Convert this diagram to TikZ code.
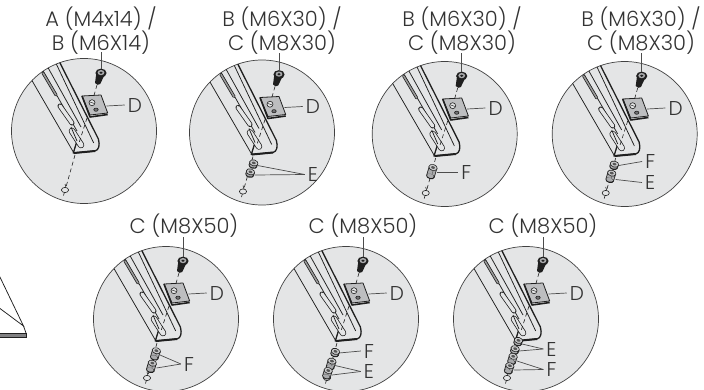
\documentclass[tikz,border=0pt]{standalone}
\usepackage{fontspec}
\setmainfont{Poppins}[UprightFont={* Light}]
\definecolor{disc}{HTML}{E4E5E6}
\definecolor{ink}{HTML}{1F1F1F}
\definecolor{txt}{HTML}{333333}
\definecolor{metal}{HTML}{A9AAAC}
\definecolor{platefill}{HTML}{BDBEC0}
\tikzset{
  discbody/.style={draw=ink!85,line width=0.7pt,fill=disc},
  railedge/.style={draw=ink,line width=0.75pt},
  heavy/.style={draw=ink,line width=1.3pt,line cap=round,line join=round},
  axisline/.style={draw=ink,line width=0.6pt,dash pattern=on 4pt off 3pt},
  leader/.style={draw=ink!80,line width=0.7pt},
  lab/.style={font=\fontsize{20}{20}\selectfont,text=txt,inner sep=0pt,anchor=center,text height=14pt,text depth=0pt},
  titletext/.style={font=\fontsize{21}{24}\selectfont,text=txt,inner sep=0pt,align=center,anchor=center},
}
% stadium shaped slot: dark stroke with a lighter stroke on top
\newcommand\slotline[4]{%
  \draw[ink,line width=#3pt,line cap=round] #1 -- #2;
  \draw[#4,line width=#3pt-1.5pt,line cap=round] #1 -- #2;}
% short cylinder along the axis: centre, half length
\newcommand\spacer[3]{%
  \begin{scope}[shift={(#1,#2)}]
    \draw[ink,line width=8.6pt] ({0.296*#3},{-#3}) -- ({-0.296*#3},{#3});
    \draw[metal,line width=7pt] ({0.296*#3},{-#3}) -- ({-0.296*#3},{#3});
    \draw[ink!70,line width=0.5pt] ({0.296*#3+1},{-#3}) -- ({-0.296*#3+1},{#3});
    \fill[ink] ({-0.296*#3},{#3}) ellipse [x radius=4.3pt,y radius=2.6pt,rotate=-16];
    \fill[metal] ({-0.296*#3},{#3-0.6}) ellipse [x radius=3.4pt,y radius=2pt,rotate=-16];
    \draw[ink,fill=metal!60,line width=0.6pt] ({0.296*#3},{-#3}) ellipse [x radius=4.3pt,y radius=3pt,rotate=-16];
    \fill[ink!75] ({0.296*#3},{-#3}) ellipse [x radius=2pt,y radius=1.3pt,rotate=-16];
  \end{scope}}
% the common content of a detail: origin at the screw head
\newcommand\detail[3]{%
  \begin{scope}[shift={(#2,#3)}]
    \node[discbody,circle,minimum size=145pt,inner sep=0pt] (#1-disc) at (-17,58) {};
    \begin{scope}
      \clip (-17,58) circle [radius=72.5pt];
      % rail
      \draw[railedge] (-78,-8) -- (-27.7,79);
      \draw[railedge] (-67,-18) -- (-24,58);
      \draw[railedge] (-60,-18) -- (-20,54);
      \draw[railedge] (-48,-16) -- (-7.3,70);
      \draw[heavy] (-44,-16) -- (-2.6,66) .. controls (-1,72) and (-2,77) .. (-6,78) -- (-27.7,80) -- (-24,68);
      \draw[ink,line width=2pt] (-27,80) -- (-6,78);
      \slotline{(-58,0)}{(-45,22)}{3}{ink!45}
      \slotline{(-41,33)}{(-29,50)}{5}{disc}
      \slotline{(-29,58)}{(-20,72)}{6.5}{disc}
      \draw[railedge] (-24,68) -- (-30,54);
    \end{scope}
    % axis
    \draw[axisline] (-4,12) -- (-8,26);
    \draw[axisline] (-14,45) -- (-22,70);
    \draw[axisline] (-26,82) -- (-35,114);
    % plate
    \draw[ink,line width=0.8pt,fill=platefill,line join=round] (-19,23) -- (0,22) -- (6.7,40) -- (-11,42) -- cycle;
    \draw[ink,line width=1.6pt,line join=round] (-19,23) -- (-11,44) -- (6.7,41.5);
    \draw[ink,fill=disc,line width=0.6pt] (-9,29.7) circle [radius=3pt];
    \draw[ink,line width=0.5pt] (-11,29) -- (-7,30.4);
    \draw[ink,fill=metal!60!ink,line width=0.6pt] (-5,36.7) ellipse [x radius=2.2pt,y radius=1.6pt];
    % screw
    \fill[ink] (4,1) -- (-0.8,11) .. controls (-1.6,12.5) and (-5,12) .. (-6,10) -- (-4.8,1) -- cycle;
    \fill[ink] (0,0) ellipse [x radius=5.6pt,y radius=4.4pt];
    \fill[metal] (0,-0.4) ellipse [x radius=3.4pt,y radius=2.6pt];
    \fill[ink] (0,-0.3) ellipse [x radius=1.7pt,y radius=1.2pt];
    \coordinate (#1-screw) at (0,-4);
    \coordinate (#1-plate) at (5.5,33);
    \node[lab] (#1-D) at (34,32) {D};
    \draw[leader] (#1-plate) -- ([xshift=-3pt]#1-D.west);
  \end{scope}}
% end ring of the axis
\newcommand\ring[3]{%
  \begin{scope}[shift={(#2,#3)}]
    \draw[ink,line width=0.6pt,fill=disc] (-36,117) ellipse [x radius=3.6pt,y radius=2.6pt];
    \draw[ink,line width=0.6pt] (-35,114.5) -- (-36,111) (-36.7,119.6) -- (-37.5,122.5);
  \end{scope}}
\begin{document}
\begin{tikzpicture}[x=1pt,y=-1pt,line cap=butt]
\useasboundingbox (0,0) rectangle (704,389);
% fragment at the left edge
\draw[railedge] (-2,273) -- (23.5,326) -- (-2,307);
\draw[ink,fill=metal!70!ink,line width=0.8pt] (-2,333) -- (26,333) -- (26,337) -- (-2,337) -- cycle;
\draw[railedge] (26,333) -- (23.5,326);

% --- detail 1
\detail{a}{101}{73}
\ring{a}{101}{73}
\node[titletext] (a-title) at (101,30.5) {A (M4x14) /\\B (M6X14)};
\coordinate (a-tail) at (101,52);
\draw[leader] (a-tail) -- (a-screw);

% --- detail 2
\detail{b}{279}{74.5}
\ring{b}{279}{74.5}
\begin{scope}[shift={(279,74.5)}]
  \spacer{-25.7}{90}{1.6}
  \spacer{-29}{99}{1.6}
  \node[lab] (b-E) at (34,100) {E};
  \coordinate (b-e1) at (-21.5,91);
  \coordinate (b-e2) at (-24.5,100.5);
  \draw[leader] (b-e1) -- ([xshift=-3pt]b-E.west);
  \draw[leader] (b-e2) -- ([xshift=-3pt]b-E.west);
\end{scope}
\node[titletext] (b-title) at (282,30.5) {B (M6X30) /\\C (M8X30)};
\coordinate (b-tail) at (279,53);
\draw[leader] (b-tail) -- (b-screw);

% --- detail 3
\detail{c}{461.7}{76}
\ring{c}{461.7}{76}
\begin{scope}[shift={(461.7,76)}]
  \spacer{-30}{96}{4.5}
  \node[lab] (c-F) at (4.5,96.5) {F};
  \coordinate (c-f) at (-24.5,96.5);
  \draw[leader] (c-f) -- ([xshift=-3pt]c-F.west);
\end{scope}
\node[titletext] (c-title) at (462,30.5) {B (M6X30) /\\C (M8X30)};
\coordinate (c-tail) at (461.7,53);
\draw[leader] (c-tail) -- (c-screw);

% --- detail 4
\detail{d}{641.7}{76}
\ring{d}{641.7}{76}
\begin{scope}[shift={(641.7,76)}]
  \spacer{-31}{100.7}{3.6}
  \spacer{-27.7}{89.7}{1.6}
  \node[lab] (d-F) at (8.5,85.5) {F};
  \node[lab] (d-E) at (8.5,106.5) {E};
  \coordinate (d-f) at (-23,89.5);
  \coordinate (d-e) at (-26,103.5);
  \draw[leader] (d-f) -- ([xshift=-3pt]d-F.west);
  \draw[leader] (d-e) -- ([xshift=-3pt]d-E.west);
\end{scope}
\node[titletext] (d-title) at (641,30.5) {B (M6X30) /\\C (M8X30)};
\coordinate (d-tail) at (641.7,53);
\draw[leader] (d-tail) -- (d-screw);

% --- detail 5
\detail{e}{183}{261}
\ring{e}{183}{261}
\begin{scope}[shift={(183,261)}]
  \spacer{-27.7}{93.3}{3.6}
  \spacer{-31.7}{105.7}{3.6}
  \node[lab] (e-F) at (6,103) {F};
  \coordinate (e-f1) at (-23,94);
  \coordinate (e-f2) at (-26.5,107);
  \draw[leader] (e-f1) -- ([xshift=-3pt]e-F.west);
  \draw[leader] (e-f2) -- ([xshift=-3pt]e-F.west);
\end{scope}
\node[titletext] (e-title) at (184,226) {C (M8X50)};
\coordinate (e-tail) at (183,237);
\draw[leader] (e-tail) -- (e-screw);

% --- detail 6
\detail{f}{363}{261}
\ring{f}{363}{261}
\begin{scope}[shift={(363,261)}]
  \spacer{-28}{92}{1.6}
  \spacer{-32}{103.3}{3.2}
  \spacer{-35.7}{112.7}{3.2}
  \node[lab] (f-F) at (6,90) {F};
  \node[lab] (f-E) at (6,110.5) {E};
  \coordinate (f-f) at (-24,92);
  \coordinate (f-e1) at (-28,104.5);
  \coordinate (f-e2) at (-31,114);
  \draw[leader] (f-f) -- ([xshift=-3pt]f-F.west);
  \draw[leader] (f-e1) -- ([xshift=-3pt]f-E.west);
  \draw[leader] (f-e2) -- ([xshift=-3pt]f-E.west);
\end{scope}
\node[titletext] (f-title) at (363,226) {C (M8X50)};
\coordinate (f-tail) at (363,237);
\draw[leader] (f-tail) -- (f-screw);

% --- detail 7
\detail{g}{543}{261}
\ring{g}{543}{261}
\begin{scope}[shift={(543,261)}]
  \spacer{-25}{81}{1.6}
  \spacer{-28.3}{89.3}{1.6}
  \spacer{-30.7}{98.3}{3}
  \spacer{-34}{107.7}{3}
  \node[lab] (g-E) at (8.5,88) {E};
  \node[lab] (g-F) at (8.5,108.5) {F};
  \coordinate (g-e1) at (-21,83);
  \coordinate (g-e2) at (-24,90);
  \coordinate (g-f1) at (-26,100);
  \coordinate (g-f2) at (-29,109);
  \draw[leader] (g-e1) -- ([xshift=-3pt]g-E.west);
  \draw[leader] (g-e2) -- ([xshift=-3pt]g-E.west);
  \draw[leader] (g-f1) -- ([xshift=-3pt]g-F.west);
  \draw[leader] (g-f2) -- ([xshift=-3pt]g-F.west);
\end{scope}
\node[titletext] (g-title) at (543,226) {C (M8X50)};
\coordinate (g-tail) at (543,237);
\draw[leader] (g-tail) -- (g-screw);
\end{tikzpicture}
\end{document}
